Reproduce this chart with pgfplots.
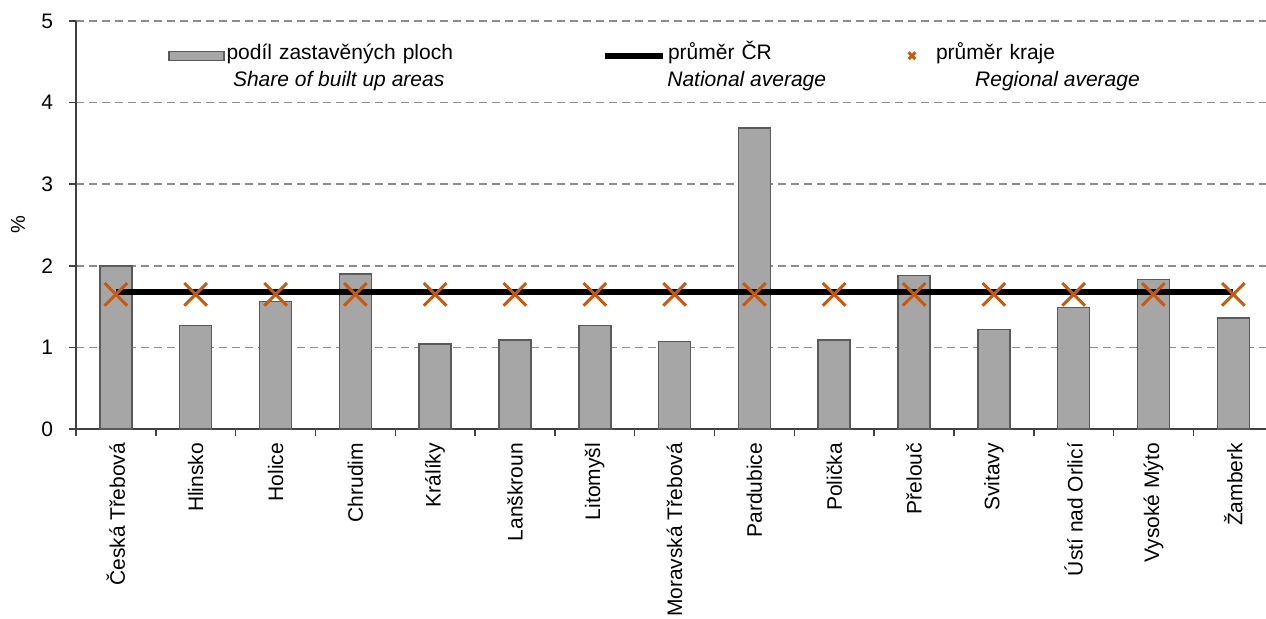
\documentclass[border=0pt]{standalone}
\usepackage{pgfplots}
\pgfplotsset{compat=1.18}
\usepackage{fontspec}
\setmainfont{Liberation Sans}
\definecolor{barfill}{HTML}{A6A6A6}
\definecolor{baredge}{HTML}{5A5A5A}
\definecolor{axisc}{HTML}{404040}
\definecolor{gridc}{HTML}{8C8C8C}
\definecolor{regc}{HTML}{C65A11}
\begin{document}
\begin{tikzpicture}
\useasboundingbox (0pt,0pt) rectangle (633pt,309.5pt);
\begin{axis}[
  at={(38pt,95pt)}, anchor=south west,
  scale only axis, width=595pt, height=204pt,
  xmin=-0.5, xmax=14.41, ymin=0, ymax=5,
  axis x line*=bottom, axis y line*=left,
  axis line style={-, color=axisc, line width=1pt},
  ytick={0,1,2,3,4,5},
  ymajorgrids,
  grid style={dash pattern=on 4pt off 2.5pt, color=gridc, line width=0.75pt},
  xtick={0,...,14},
  xticklabels={Česká Třebová, Hlinsko, Holice, Chrudim, Králíky, Lanškroun, Litomyšl, Moravská Třebová, Pardubice, Polička, Přelouč, Svitavy, Ústí nad Orlicí, Vysoké Mýto, Žamberk},
  minor xtick={-0.5,0.5,...,14.5},
  major x tick style={draw=none},
  tick align=outside,
  major tick length=3.5pt, minor tick length=3.5pt,
  tick style={color=axisc, line width=0.75pt},
  /pgf/number format/assume math mode=true,
  ticklabel style={font=\fontsize{10.5}{12}\selectfont},
  yticklabel style={xshift=-4.5pt},
  xticklabel style={rotate=90, anchor=east, font=\fontsize{10.5}{12}\selectfont},
  ylabel={\%},
  ylabel style={font=\fontsize{10.5}{12}\selectfont},
  every axis y label/.style={at={(axis description cs:-0.0487,0.5)}, rotate=90, anchor=center},
  legend columns=3,
  legend style={draw=none, fill=none, inner sep=0pt, at={(axis description cs:0.077,0.924)}, anchor=west,
    font=\fontsize{10.5}{12}\selectfont,
    nodes={inner sep=1pt, anchor=base west},
    /tikz/every even column/.append style={column sep=1pt}},
  clip=false,
]
\addplot[ybar, bar width=16pt, fill=barfill, draw=baredge, line width=0.75pt,
  legend image code/.code={\draw[fill=barfill,draw=baredge,line width=0.75pt] (0pt,-0.5pt) rectangle (27.5pt,4pt);}]
  coordinates {(0,2.00) (1,1.27) (2,1.56) (3,1.90) (4,1.04) (5,1.09) (6,1.27) (7,1.07) (8,3.69) (9,1.09) (10,1.88) (11,1.22) (12,1.49) (13,1.83) (14,1.36)};
\addlegendentry[text width=186pt]{podíl zastavěných ploch}
\addplot[black, line width=2.75pt,
  legend image code/.code={\draw[black,line width=2.75pt] (0pt,1.75pt) -- (29pt,1.75pt);}]
  coordinates {(0,1.68) (14,1.68)};
\addlegendentry[text width=115pt]{průměr ČR}
\addplot[only marks, mark=x, mark size=8pt, color=regc, mark options={line width=1.5pt},
  legend image code/.code={\path[draw=none] (0pt,2pt) -- (16pt,2pt);\draw[only marks,mark=x,color=regc,mark size=2.4pt,line width=1.5pt] plot coordinates {(5pt,2pt)};}]
  coordinates {(0,1.65) (1,1.65) (2,1.65) (3,1.65) (4,1.65) (5,1.65) (6,1.65) (7,1.65) (8,1.65) (9,1.65) (10,1.65) (11,1.65) (12,1.65) (13,1.65) (14,1.65)};
\addlegendentry[text width=90pt]{průměr kraje}
\node[anchor=west, font=\fontsize{10.5}{12}\selectfont\itshape] at (axis description cs:0.126,0.852) {Share of built up areas};
\node[anchor=west, font=\fontsize{10.5}{12}\selectfont\itshape] at (axis description cs:0.491,0.852) {National average};
\node[anchor=west, font=\fontsize{10.5}{12}\selectfont\itshape] at (axis description cs:0.7497,0.852) {Regional average};
\end{axis}
\end{tikzpicture}
\end{document}
